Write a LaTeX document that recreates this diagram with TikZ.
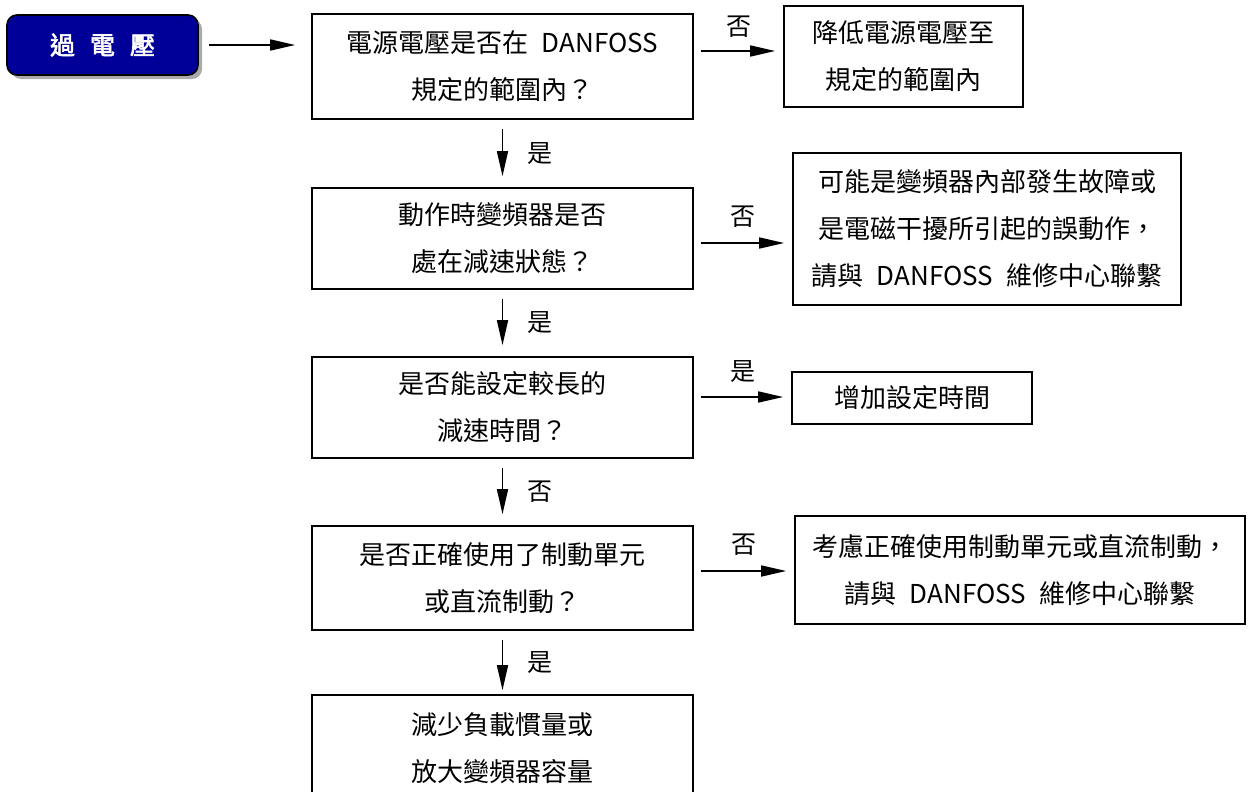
\documentclass[tikz,border=0pt]{standalone}
\usepackage{fontspec}
\setmainfont{Noto Sans CJK TC}
\newfontfamily\cjkbold[AutoFakeBold=2.5]{Noto Sans CJK TC}
\usetikzlibrary{arrows.meta,shadows}
\definecolor{startblue}{RGB}{0,0,153}
\definecolor{shadowgray}{RGB}{170,170,170}
\tikzset{
  box/.style={draw, line width=1.7pt, align=center, inner sep=0pt,
    font=\fontsize{26}{47}\selectfont},
  startbox/.style={draw=black, line width=1.6pt, fill=startblue, rounded corners=10pt,
    minimum width=191pt, minimum height=60pt, inner sep=0pt, text=white,
    font=\cjkbold\bfseries\fontsize{25}{28}\selectfont,
    drop shadow={shadow xshift=4pt, shadow yshift=-4pt, fill=shadowgray, opacity=1}},
  arr/.style={line width=1.7pt, -{Triangle[length=25pt,width=11pt]}},
  lbl/.style={font=\fontsize{25}{28}\selectfont, inner sep=0pt},
}
\begin{document}
\begin{tikzpicture}[x=1pt,y=-1pt]
\useasboundingbox (0,0) rectangle (1250,792);
\clip (0,0) rectangle (1250,792);

\node[startbox] (s) at (102.5,45) {過\hspace{0.6em}電\hspace{0.6em}壓};

\node[box, minimum width=381pt, minimum height=105pt] (d1) at (502.5,66.5)
  {電源電壓是否在\enspace DANFOSS\\規定的範圍內？};
\node[box, minimum width=239pt, minimum height=101pt] (n1) at (903.5,56.5)
  {降低電源電壓至\\規定的範圍內};

\node[box, minimum width=381pt, minimum height=101pt] (d2) at (502.5,238.5)
  {動作時變頻器是否\\處在減速狀態？};
\node[box, minimum width=388pt, minimum height=152pt] (n2) at (987,229)
  {可能是變頻器內部發生故障或\\是電磁干擾所引起的誤動作，\\請與\enspace DANFOSS\enspace 維修中心聯繫};

\node[box, minimum width=381pt, minimum height=101pt] (d3) at (502.5,407.5)
  {是否能設定較長的\\減速時間？};
\node[box, minimum width=240pt, minimum height=52pt] (n3) at (912,398)
  {增加設定時間};

\node[box, minimum width=381pt, minimum height=104pt] (d4) at (502.5,578)
  {是否正確使用了制動單元\\或直流制動？};
\node[box, minimum width=450pt, minimum height=108pt] (n4) at (1020,570)
  {考慮正確使用制動單元或直流制動，\\請與\enspace DANFOSS\enspace 維修中心聯繫};

\node[box, minimum width=381pt, minimum height=106pt] (n5) at (502.5,748)
  {減少負載慣量或\\放大變頻器容量};

% connectors
\draw[arr, shorten <=10pt, shorten >=16pt] (s.east) -- (s.east -| d1.west);

\draw[arr, shorten <=7pt, shorten >=8pt] ([yshift=15.5pt]d1.east) -- ([yshift=15.5pt]d1.east -| n1.west)
  node[lbl, midway, above=13pt] {否};
\draw[arr, shorten <=7pt, shorten >=8pt] ([yshift=-4.5pt]d2.east) -- ([yshift=-4.5pt]d2.east -| n2.west)
  node[lbl, midway, above=15pt] {否};
\draw[arr, shorten <=7pt, shorten >=8pt] ([yshift=10.5pt]d3.east) -- ([yshift=10.5pt]d3.east -| n3.west)
  node[lbl, midway, above=14pt] {是};
\draw[arr, shorten <=7pt, shorten >=8pt] ([yshift=7pt]d4.east) -- ([yshift=7pt]d4.east -| n4.west)
  node[lbl, midway, above=15pt] {否};

\draw[arr, shorten <=9pt, shorten >=11pt] (d1.south) -- (d2.north)
  node[lbl, midway, right=24pt] {是};
\draw[arr, shorten <=9pt, shorten >=11pt] (d2.south) -- (d3.north)
  node[lbl, midway, right=24pt] {是};
\draw[arr, shorten <=9pt, shorten >=11pt] (d3.south) -- (d4.north)
  node[lbl, midway, right=24pt] {否};
\draw[arr, shorten <=9pt, shorten >=4pt] (d4.south) -- (n5.north)
  node[lbl, midway, right=24pt] {是};
\end{tikzpicture}
\end{document}
